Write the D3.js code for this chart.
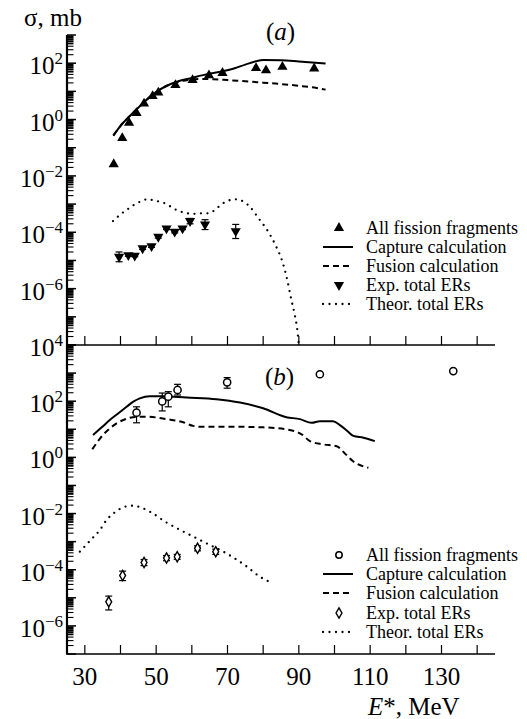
<!DOCTYPE html>
<html>
<head>
<meta charset="utf-8">
<script src="https://cdn.jsdelivr.net/npm/d3@7"></script>
<style>
  body { margin: 0; background: #fff; }
  svg { display: block; }
</style>
</head>
<body>
<svg id="chart" width="527" height="719" font-family="'Liberation Serif', 'DejaVu Serif', 'Times New Roman', serif"></svg>
<script>
// ---------- Panel (a) ----------
const aFissE = [38.1, 40.5, 42.4, 44.5, 46.6, 49.0, 50.6, 55.4, 60.2, 64.8, 68.6, 78.0, 80.8, 85.4, 94.3];
const aFissS = [0.026, 0.22, 0.76, 1.7, 3.7, 6.8, 9.1, 16.6, 25, 37, 45, 67, 56, 74, 65];

const aCapE = [38, 40, 42, 44, 46, 48, 50, 53, 56, 60, 64, 68, 72, 75, 78, 80, 85, 90, 97.5];
const aCapS = [0.27, 0.6, 1.12, 2.0, 3.5, 6.0, 9.5, 15.8, 22.4, 30, 40, 50, 66, 89, 117, 129, 126, 115, 98];

const aFusE = [38, 40, 42, 44, 46, 48, 50, 53, 56, 60, 63, 66, 70, 75, 80, 85, 90, 95, 97.5];
const aFusS = [0.27, 0.6, 1.12, 2.0, 3.5, 6.0, 9.5, 15.8, 21.4, 26.3, 27.5, 26.9, 25.1, 22.9, 20.4, 18.2, 15.8, 13.2, 11.5];

const aErE  = [39.6, 42.2, 44.0, 46.2, 48.7, 50.6, 52.9, 55.2, 57.4, 59.5, 63.7, 72.3];
const aErS  = [1.35e-5, 1.55e-5, 1.48e-5, 2.7e-5, 3.2e-5, 6.9e-5, 1.38e-4, 1.05e-4, 1.38e-4, 2.5e-4, 1.9e-4, 1.1e-4];
const aErLo = [0.9e-5, 1.4e-5, 1.35e-5, 2.45e-5, 2.9e-5, 6.2e-5, 1.25e-4, 0.95e-4, 1.25e-4, 2.0e-4, 1.25e-4, 0.6e-4];
const aErHi = [2.0e-5, 1.7e-5, 1.6e-5, 3.0e-5, 3.6e-5, 7.7e-5, 1.52e-4, 1.15e-4, 1.52e-4, 3.1e-4, 2.8e-4, 1.9e-4];

const aThE = [37.9, 39.8, 41.7, 43.5, 45.4, 47.5, 49.6, 52.0, 55.7, 58.0, 60.4, 62.3, 64.6, 66.5, 68.3, 70.2,
              72.1, 74.6, 76.3, 78.9, 81.4, 83.6, 85.3, 86.5, 87.9, 88.9, 89.6, 90.0];
const aThS = [2.5e-4, 4.1e-4, 6.2e-4, 8.9e-4, 1.2e-3, 1.48e-3, 1.32e-3, 1.12e-3, 6.2e-4, 4.9e-4, 4.5e-4, 4.7e-4,
              4.7e-4, 6.2e-4, 9.8e-4, 1.32e-3, 1.48e-3, 1.2e-3, 7.9e-4, 2.9e-4, 1.05e-4, 3.2e-5, 9.8e-6, 2.8e-6,
              4.0e-7, 1.1e-7, 3.2e-8, 1.0e-8];

// ---------- Panel (b) ----------
const bFissE  = [44.5, 51.7, 53.4, 56.0, 69.9, 95.9, 133.3];
const bFissS  = [39, 98, 145, 251, 470, 910, 1180];
const bFissLo = [17, 45, 63, 166, 290, 880, 1150];
const bFissHi = [63, 195, 218, 398, 690, 940, 1210];

const bCapE = [32.3, 35, 37, 39.5, 41.7, 43.5, 45.4, 48.2, 52, 58.5, 66.9, 73.5, 80, 86.5, 90.3, 93.6, 95.9,
               99.6, 101.5, 103.5, 105.3, 108.1, 111.3];
const bCapS = [6.3, 12.6, 21.4, 38, 63, 95, 126, 151, 151, 135, 117, 89, 56, 27, 23, 17, 19.5,
               19.5, 14.1, 8.9, 5.8, 5.0, 3.8];

const bFusE = [32.1, 33.5, 35.1, 37, 38.9, 41, 43.5, 47.3, 52.9, 57.1, 60.4, 62.3, 70.7, 80, 88.4, 90.8, 93.1,
               96.8, 100.6, 102.9, 105.3, 109.5];
const bFusS = [1.95, 3.5, 6.3, 10.7, 16.2, 21.9, 26.9, 28.2, 22.9, 18.6, 13.2, 12.3, 12.3, 11.7, 8.9, 6.6, 3.8,
               2.9, 2.5, 1.38, 0.71, 0.43];

const bErE  = [36.7, 40.6, 46.6, 52.9, 55.9, 61.6, 66.7];
const bErS  = [7.2e-6, 6.2e-5, 1.8e-4, 2.6e-4, 2.9e-4, 5.8e-4, 4.4e-4];
const bErLo = [3.7e-6, 4.1e-5, 1.4e-4, 2.1e-4, 2.35e-4, 4.7e-4, 3.5e-4];
const bErHi = [1.15e-5, 8.9e-5, 2.3e-4, 3.2e-4, 3.5e-4, 7.1e-4, 5.4e-4];

const bThE = [28.6, 31.9, 34.2, 36.1, 38.5, 41.2, 43.5, 46, 48.2, 53, 58.5, 61.3, 64.1, 69.7, 75.4, 79.1, 82.8];
const bThS = [4.4e-4, 1.23e-3, 2.57e-3, 5.9e-3, 1.12e-2, 1.74e-2, 1.9e-2, 1.58e-2, 1.17e-2, 4.7e-3, 2.0e-3,
              1.32e-3, 8.7e-4, 3.8e-4, 1.29e-4, 5.6e-5, 3.3e-5];

// ---------- Axes ----------
const xTickLabels = [30, 50, 70, 90, 110, 130];
const xTickMarks  = [30, 40, 50, 60, 70, 80, 90, 100, 110, 120, 130, 140];
const aLabelExps  = [2, 0, -2, -4, -6];
const bLabelExps  = [4, 2, 0, -2, -4, -6];
const legendNames = ["All fission fragments", "Capture calculation", "Fusion calculation",
                     "Exp. total ERs", "Theor. total ERs"];

const svg = d3.select("#chart");
const x = d3.scaleLinear().domain([25, 145]).range([67, 495]);
const yA = d3.scaleLog().domain([1e-8, 1e3]).range([345, 35]);
const yB = d3.scaleLog().domain([1e-7, 1e4]).range([654, 345]);

const zip = (xs, ys) => xs.map((v, i) => [v, ys[i]]);

// clip paths for each panel
const defs = svg.append("defs");
defs.append("clipPath").attr("id", "clipA").append("rect")
  .attr("x", 67).attr("y", 30).attr("width", 430).attr("height", 315);
defs.append("clipPath").attr("id", "clipB").append("rect")
  .attr("x", 67).attr("y", 345).attr("width", 430).attr("height", 309);

// inward log ticks: long at each decade, shorter at 2..9
function yTicks(g, y) {
  const [lo, hi] = y.domain().map(Math.log10);
  for (let e = lo; e <= hi; e++) {
    const major = y(Math.pow(10, e));
    g.append("line").attr("x1", 67).attr("x2", 76).attr("y1", major).attr("y2", major)
      .attr("stroke", "#000").attr("stroke-width", 1.5);
    if (e < hi) {
      for (let m = 2; m <= 9; m++) {
        const yy = y(m * Math.pow(10, e));
        g.append("line").attr("x1", 67).attr("x2", 73.5).attr("y1", yy).attr("y2", yy)
          .attr("stroke", "#000").attr("stroke-width", m >= 5 ? 1.8 : 1.1);
      }
    }
  }
}

function yLabels(g, y, exps) {
  exps.forEach(e => {
    const t = g.append("text").attr("x", 63).attr("y", y(Math.pow(10, e)) + 11)
      .attr("text-anchor", "end").attr("font-size", 25);
    t.append("tspan").text("10");
    t.append("tspan").attr("font-size", 17).attr("dy", -10)
      .text(e < 0 ? "\u2212" + (-e) : String(e));
  });
}

function xAxisLine(g, yPos) {
  g.append("line").attr("x1", 66).attr("x2", 495).attr("y1", yPos).attr("y2", yPos)
    .attr("stroke", "#000").attr("stroke-width", 1.5);
  xTickMarks.forEach(v => {
    g.append("line").attr("x1", x(v)).attr("x2", x(v)).attr("y1", yPos).attr("y2", yPos - 9)
      .attr("stroke", "#000").attr("stroke-width", 1.2);
  });
}

const axes = svg.append("g");
yTicks(axes, yA);
yTicks(axes, yB);
yLabels(axes, yA, aLabelExps);
yLabels(axes, yB, bLabelExps);
xAxisLine(axes, 345);
xAxisLine(axes, 654);
axes.append("line").attr("x1", 67).attr("x2", 67).attr("y1", 35).attr("y2", 654)
  .attr("stroke", "#000").attr("stroke-width", 2.2);

axes.selectAll("text.xl").data(xTickLabels).enter().append("text")
  .attr("x", d => x(d)).attr("y", 685).attr("text-anchor", "middle").attr("font-size", 25)
  .text(d => d);

// axis titles and panel tags
svg.append("text").attr("x", 24).attr("y", 26).attr("font-size", 25).text("\u03c3, mb");

const xt = svg.append("text").attr("x", 368).attr("y", 715).attr("font-size", 25);
xt.append("tspan").attr("font-style", "italic").text("E");
xt.append("tspan").text("*, MeV");

function tag(xp, yp, letter) {
  const t = svg.append("text").attr("x", xp).attr("y", yp).attr("font-size", 25);
  t.append("tspan").text("(");
  t.append("tspan").attr("font-style", "italic").text(letter);
  t.append("tspan").text(")");
}
tag(266, 40, "a");
tag(265, 385, "b");

// ---------- marks ----------
const styles = {
  solid: { dash: null, width: 2, cap: "butt" },
  dashed: { dash: "6,4", width: 2, cap: "butt" },
  dotted: { dash: "0,6.5", width: 2.3, cap: "round" }
};

function drawLine(g, y, xs, ys, style) {
  const s = styles[style];
  const line = d3.line().x(d => x(d[0])).y(d => y(d[1])).curve(d3.curveMonotoneX);
  g.append("path").attr("d", line(zip(xs, ys))).attr("fill", "none")
    .attr("stroke", "#000").attr("stroke-width", s.width)
    .attr("stroke-dasharray", s.dash).attr("stroke-linecap", s.cap);
}

function errorBars(g, y, xs, lo, hi) {
  xs.forEach((v, i) => {
    const cx = x(v), y1 = y(lo[i]), y2 = y(hi[i]);
    g.append("line").attr("x1", cx).attr("x2", cx).attr("y1", y1).attr("y2", y2)
      .attr("stroke", "#000").attr("stroke-width", 1.2);
    [y1, y2].forEach(yy => g.append("line").attr("x1", cx - 3.5).attr("x2", cx + 3.5)
      .attr("y1", yy).attr("y2", yy).attr("stroke", "#000").attr("stroke-width", 1.2));
  });
}

const triUp = d3.symbol().type(d3.symbolTriangle).size(45)();
const diamond = d3.symbol().type(d3.symbolDiamond).size(30)();

function markers(g, y, xs, ys, kind) {
  xs.forEach((v, i) => {
    const cx = x(v), cy = y(ys[i]);
    if (kind === "up") {
      g.append("path").attr("d", triUp).attr("transform", `translate(${cx},${cy})`).attr("fill", "#000");
    } else if (kind === "down") {
      g.append("path").attr("d", triUp).attr("transform", `translate(${cx},${cy}) rotate(180)`).attr("fill", "#000");
    } else if (kind === "circle") {
      g.append("circle").attr("cx", cx).attr("cy", cy).attr("r", 3.6)
        .attr("fill", "#fff").attr("stroke", "#000").attr("stroke-width", 1.5);
    } else if (kind === "diamond") {
      g.append("path").attr("d", diamond).attr("transform", `translate(${cx},${cy})`)
        .attr("fill", "#fff").attr("stroke", "#000").attr("stroke-width", 1.4);
    }
  });
}

// panel (a)
const gA = svg.append("g").attr("clip-path", "url(#clipA)");
drawLine(gA, yA, aCapE, aCapS, "solid");
drawLine(gA, yA, aFusE, aFusS, "dashed");
drawLine(gA, yA, aThE, aThS, "dotted");
markers(gA, yA, aFissE, aFissS, "up");
errorBars(gA, yA, aErE, aErLo, aErHi);
markers(gA, yA, aErE, aErS, "down");

// panel (b)
const gB = svg.append("g").attr("clip-path", "url(#clipB)");
drawLine(gB, yB, bCapE, bCapS, "solid");
drawLine(gB, yB, bFusE, bFusS, "dashed");
drawLine(gB, yB, bThE, bThS, "dotted");
errorBars(gB, yB, bFissE, bFissLo, bFissHi);
markers(gB, yB, bFissE, bFissS, "circle");
errorBars(gB, yB, bErE, bErLo, bErHi);
markers(gB, yB, bErE, bErS, "diamond");

// ---------- legends ----------
function legend(rows, symbolA, symbolB) {
  const lg = svg.append("g");
  const kinds = [symbolA, "solid", "dashed", symbolB, "dotted"];
  rows.forEach((ry, i) => {
    const k = kinds[i];
    if (styles[k]) {
      const s = styles[k];
      lg.append("line").attr("x1", 323).attr("x2", 353).attr("y1", ry).attr("y2", ry)
        .attr("stroke", "#000").attr("stroke-width", s.width)
        .attr("stroke-dasharray", s.dash).attr("stroke-linecap", s.cap);
    } else if (k === "up") {
      lg.append("path").attr("d", triUp).attr("transform", `translate(339,${ry})`).attr("fill", "#000");
    } else if (k === "down") {
      lg.append("path").attr("d", triUp).attr("transform", `translate(339,${ry}) rotate(180)`).attr("fill", "#000");
    } else if (k === "circle") {
      lg.append("circle").attr("cx", 339).attr("cy", ry).attr("r", 3.2)
        .attr("fill", "#fff").attr("stroke", "#000").attr("stroke-width", 1.5);
    } else if (k === "diamond") {
      lg.append("path").attr("d", diamond).attr("transform", `translate(339,${ry})`)
        .attr("fill", "#fff").attr("stroke", "#000").attr("stroke-width", 1.4);
    }
    lg.append("text").attr("x", 366).attr("y", ry + 6).attr("font-size", 18).text(legendNames[i]);
  });
}
legend([228, 247, 266, 285, 304], "up", "down");
legend([555, 574, 593, 613, 632], "circle", "diamond");
</script>
</body>
</html>
